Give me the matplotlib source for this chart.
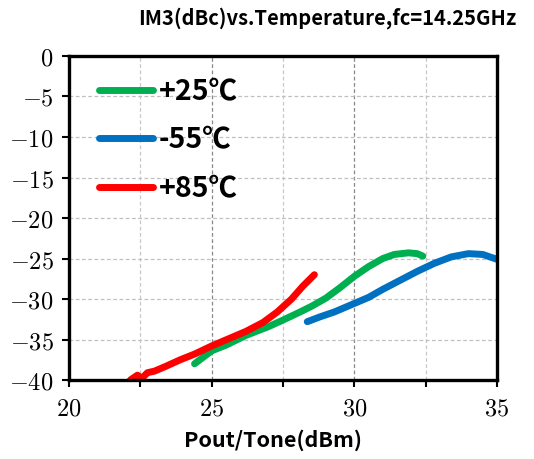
import numpy as np
import matplotlib
matplotlib.use('Agg')
import matplotlib.pyplot as plt
from matplotlib.ticker import FixedLocator, FixedFormatter

plt.rcParams['mathtext.fontset'] = 'cm'

# data
x_25 = [24.4, 25.0, 25.5, 26.2, 27.0, 27.5, 28.1, 28.5, 29.0, 29.5, 30.0, 30.5, 31.0, 31.4, 31.9, 32.2, 32.4]
y_25 = [-38.0, -36.4, -35.7, -34.5, -33.4, -32.6, -31.6, -30.9, -29.9, -28.6, -27.2, -26.0, -25.0, -24.5, -24.3, -24.4, -24.7]

x_m55 = [28.35, 28.8, 29.3, 29.9, 30.5, 31.0, 31.6, 32.2, 32.8, 33.4, 34.0, 34.5, 35.0]
y_m55 = [-32.8, -32.2, -31.6, -30.7, -29.8, -28.8, -27.7, -26.6, -25.6, -24.8, -24.4, -24.5, -25.1]

x_85 = [22.15, 22.4, 22.55, 22.75, 23.0, 23.4, 23.9, 24.4, 25.0, 25.6, 26.2, 26.8, 27.3, 27.8, 28.2, 28.6]
y_85 = [-40.0, -39.4, -39.8, -39.1, -38.9, -38.3, -37.5, -36.8, -35.8, -34.9, -34.0, -32.9, -31.6, -30.0, -28.4, -27.0]

labels = ['+25℃', '-55℃', '+85℃']
colors = ['#00B050', '#0070C0', '#FF0000']

xticks = [20, 25, 30, 35]
xminor = [22.5, 27.5, 32.5]
yticks = [0, -5, -10, -15, -20, -25, -30, -35, -40]

fig = plt.figure(figsize=(5.34, 4.59), dpi=100)
ax = fig.add_axes([0.1292, 0.1721, 0.8015, 0.7059])

series = [(x_25, y_25), (x_m55, y_m55), (x_85, y_85)]
for (xs, ys), lab, c in zip(series, labels, colors):
    ax.plot(xs, ys, color=c, lw=5, solid_capstyle='round', solid_joinstyle='round', label=lab)

ax.set_xlim(20, 35)
ax.set_ylim(-40, 0)

ax.xaxis.set_major_locator(FixedLocator(xticks))
ax.xaxis.set_major_formatter(FixedFormatter(['$%d$' % v for v in xticks]))
ax.xaxis.set_minor_locator(FixedLocator(xminor))
ax.yaxis.set_major_locator(FixedLocator(yticks))
ax.yaxis.set_major_formatter(FixedFormatter(['$%d$' % v for v in yticks]))

ax.tick_params(axis='both', which='both', direction='out', length=5, width=1.5, labelsize=17.5, color='black')
ax.tick_params(axis='x', pad=7)
ax.tick_params(axis='y', pad=6)

ax.grid(True, axis='x', which='major', color='#888888', ls=(0, (3, 2)), lw=0.9)
ax.grid(True, axis='x', which='minor', color='#c8c8c8', ls=(0, (3, 2)), lw=0.9)
ax.grid(True, axis='y', which='major', color='#c0c0c0', ls=(0, (3, 2)), lw=0.9)
ax.set_axisbelow(True)

for sp in ax.spines.values():
    sp.set_linewidth(2.4)
    sp.set_color('black')

leg = ax.legend(loc='upper left', bbox_to_anchor=(0.03, 0.985), frameon=False,
                handlelength=1.9, handletextpad=0.2, labelspacing=0.72,
                borderaxespad=0.2,
                prop={'family': ['Noto Sans CJK SC', 'DejaVu Sans'], 'weight': 'bold', 'size': 20.5})

fig.text(0.612, 0.96, 'IM3(dBc)vs.Temperature,fc=14.25GHz', ha='center', va='center',
         fontsize=14.5, fontweight='bold', family=['Noto Sans CJK SC', 'DejaVu Sans'])
fig.text(0.511, 0.041, 'Pout/Tone(dBm)', ha='center', va='center', fontsize=15.5,
         fontweight='bold', family=['Noto Sans CJK SC', 'DejaVu Sans'])

fig.savefig('out.png', dpi=100)
